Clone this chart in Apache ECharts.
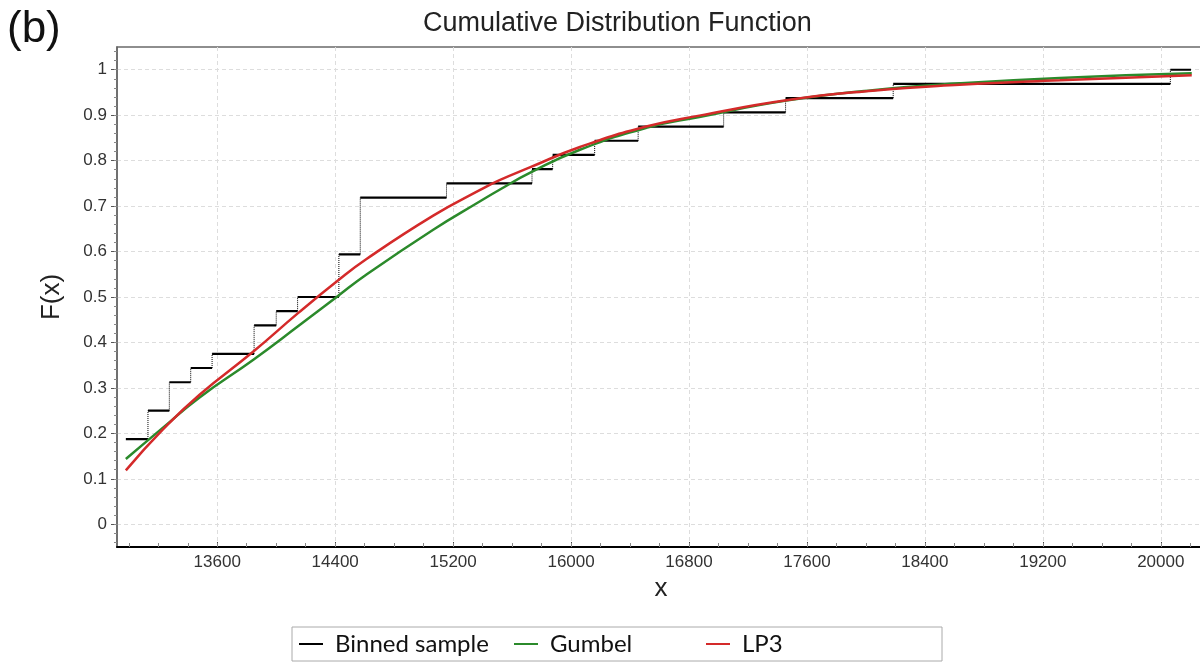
<!DOCTYPE html>
<html>
<head>
<meta charset="utf-8">
<title>Cumulative Distribution Function</title>
<script src="https://cdn.jsdelivr.net/npm/echarts@6/dist/echarts.min.js"></script>
<style>
html, body { margin: 0; padding: 0; background: #fff; }
#cdfChart { width: 1200px; height: 664px; }
</style>
</head>
<body>
<div id="cdfChart"></div>
<script>
// binned sample: bin edges along x, and the cumulative probability of each bin
const binEdges = [12980, 13130, 13275, 13420, 13565, 13850, 14000, 14145, 14425, 14570, 15155, 15735, 15875, 16160, 16455, 17035, 17455, 18185, 20065, 20205]
const binProb = [0.1875, 0.25, 0.3125, 0.34375, 0.375, 0.4375, 0.46875, 0.5, 0.59375, 0.71875, 0.75, 0.78125, 0.8125, 0.84375, 0.875, 0.90625, 0.9375, 0.96875, 1]

const curveX = [12980, 13230, 13480, 13845, 14150, 14410, 14610, 15065, 15380, 15515, 15720, 16060, 16510, 16870, 17460, 18045, 18635, 19315, 20210]
const gumbelF = [0.1435, 0.212, 0.279, 0.362, 0.436, 0.5, 0.549, 0.648, 0.71, 0.736, 0.773, 0.824, 0.872, 0.896, 0.932, 0.955, 0.97, 0.982, 0.992]
const lp3F = [0.1185, 0.208, 0.285, 0.38, 0.465, 0.534, 0.583, 0.679, 0.735, 0.757, 0.785, 0.83, 0.875, 0.899, 0.933, 0.954, 0.967, 0.977, 0.988]

const xTicks = [13600, 14400, 15200, 16000, 16800, 17600, 18400, 19200, 20000]
const yTicks = [0, 0.1, 0.2, 0.3, 0.4, 0.5, 0.6, 0.7, 0.8, 0.9, 1]
const yTickLabels = ['0', '0.1', '0.2', '0.3', '0.4', '0.5', '0.6', '0.7', '0.8', '0.9', '1']

const xMinorTicks = []
for (let v = 13000; v <= 20200; v += 200) xMinorTicks.push(v)
const yMinorTicks = []
for (let k = -2; k <= 52; k++) yMinorTicks.push(Math.round(k * 2) / 100)

// flat parts of the steps are solid, the risers are dotted
const stepFlat = []
const stepRise = []
binProb.forEach((p, i) => {
  stepFlat.push([binEdges[i], p], [binEdges[i + 1], p], ['-', '-'])
  if (i > 0) stepRise.push([binEdges[i], binProb[i - 1]], [binEdges[i], p], ['-', '-'])
})

const labelFont = 'Liberation Sans'
const legendBase = {
  orient: 'horizontal',
  icon: 'rect',
  itemWidth: 24,
  itemHeight: 2,
  padding: 0,
  top: 632,
  selectedMode: false,
  textStyle: { fontFamily: 'Lato', fontSize: 24, color: '#111', padding: [0, 0, 0, 7] },
}

const chart = echarts.init(document.getElementById('cdfChart'))
chart.setOption({
  animation: false,
  backgroundColor: '#fff',
  title: [
    {
      text: '(b)',
      left: 7,
      top: 8,
      padding: 0,
      textStyle: { fontFamily: labelFont, fontSize: 44, fontWeight: 'normal', color: '#111' },
    },
    {
      text: 'Cumulative Distribution Function',
      left: 423,
      top: 10,
      padding: 0,
      textStyle: { fontFamily: labelFont, fontSize: 27, fontWeight: 'normal', color: '#222' },
    },
  ],
  legend: [
    Object.assign({}, legendBase, { data: ['Binned sample'], left: 299 }),
    Object.assign({}, legendBase, { data: ['Gumbel'], left: 514 }),
    Object.assign({}, legendBase, { data: ['LP3'], left: 706 }),
  ],
  graphic: [
    {
      type: 'rect',
      shape: { x: 292, y: 627, width: 650, height: 34 },
      style: { fill: 'none', stroke: '#aaa', lineWidth: 1 },
      silent: true,
    },
  ],
  grid: {
    left: 117,
    right: -5,
    top: 47,
    bottom: 117,
    show: true,
    borderColor: '#6a6a6a',
    borderWidth: 1.5,
    outerBoundsMode: 'none',
  },
  xAxis: [
    {
      type: 'value',
      min: 12920,
      max: 20300,
      name: 'x',
      nameLocation: 'middle',
      nameGap: 27,
      nameTextStyle: { fontFamily: labelFont, fontSize: 26, color: '#222' },
      axisLine: { show: true, onZero: false, lineStyle: { color: '#000', width: 2 } },
      axisTick: { show: true, inside: true, length: 5, customValues: xTicks, lineStyle: { color: '#444' } },
      axisLabel: {
        customValues: xTicks,
        margin: 7,
        fontFamily: labelFont,
        fontSize: 17,
        color: '#333',
        formatter: (v) => String(v),
      },
      splitLine: { show: true, lineStyle: { color: '#ddd', type: [4, 3], width: 1 } },
    },
    {
      // minor ticks only
      type: 'value',
      min: 12920,
      max: 20300,
      position: 'bottom',
      axisLine: { show: false, onZero: false },
      axisTick: { show: true, inside: true, length: 4, customValues: xMinorTicks, lineStyle: { color: '#888' } },
      axisLabel: { show: false },
      splitLine: { show: false },
    },
  ],
  yAxis: [
    {
      type: 'value',
      min: -0.05,
      max: 1.05,
      name: 'F(x)',
      nameLocation: 'middle',
      nameGap: 52,
      nameTextStyle: { fontFamily: labelFont, fontSize: 26, color: '#222' },
      axisLine: { show: true, onZero: false, lineStyle: { color: '#666', width: 1.5 } },
      axisTick: { show: true, length: 6, customValues: yTicks, lineStyle: { color: '#555' } },
      axisLabel: {
        customValues: yTicks,
        margin: 10,
        fontFamily: labelFont,
        fontSize: 17,
        color: '#333',
        formatter: (v) => yTickLabels[yTicks.findIndex((t) => Math.abs(t - v) < 1e-9)],
      },
      splitLine: { show: true, lineStyle: { color: '#ddd', type: [4, 3], width: 1 } },
    },
    {
      // minor ticks only
      type: 'value',
      min: -0.05,
      max: 1.05,
      position: 'left',
      axisLine: { show: false, onZero: false },
      axisTick: { show: true, length: 3, customValues: yMinorTicks, lineStyle: { color: '#888' } },
      axisLabel: { show: false },
      splitLine: { show: false },
    },
  ],
  series: [
    {
      name: 'Binned sample',
      type: 'line',
      data: stepFlat,
      symbol: 'none',
      color: '#000',
      lineStyle: { color: '#000', width: 2.2 },
      z: 2,
    },
    {
      name: 'Binned sample',
      type: 'line',
      data: stepRise,
      symbol: 'none',
      color: '#000',
      lineStyle: { color: '#000', width: 1, type: 'dotted' },
      z: 2,
    },
    {
      name: 'Gumbel',
      type: 'line',
      data: curveX.map((x, i) => [x, gumbelF[i]]),
      symbol: 'none',
      smooth: 0.5,
      color: '#2b8a2b',
      lineStyle: { color: '#2b8a2b', width: 2.5 },
      z: 3,
    },
    {
      name: 'LP3',
      type: 'line',
      data: curveX.map((x, i) => [x, lp3F[i]]),
      symbol: 'none',
      smooth: 0.5,
      color: '#d42a2a',
      lineStyle: { color: '#d42a2a', width: 2.5 },
      z: 4,
    },
  ],
})
</script>
</body>
</html>
